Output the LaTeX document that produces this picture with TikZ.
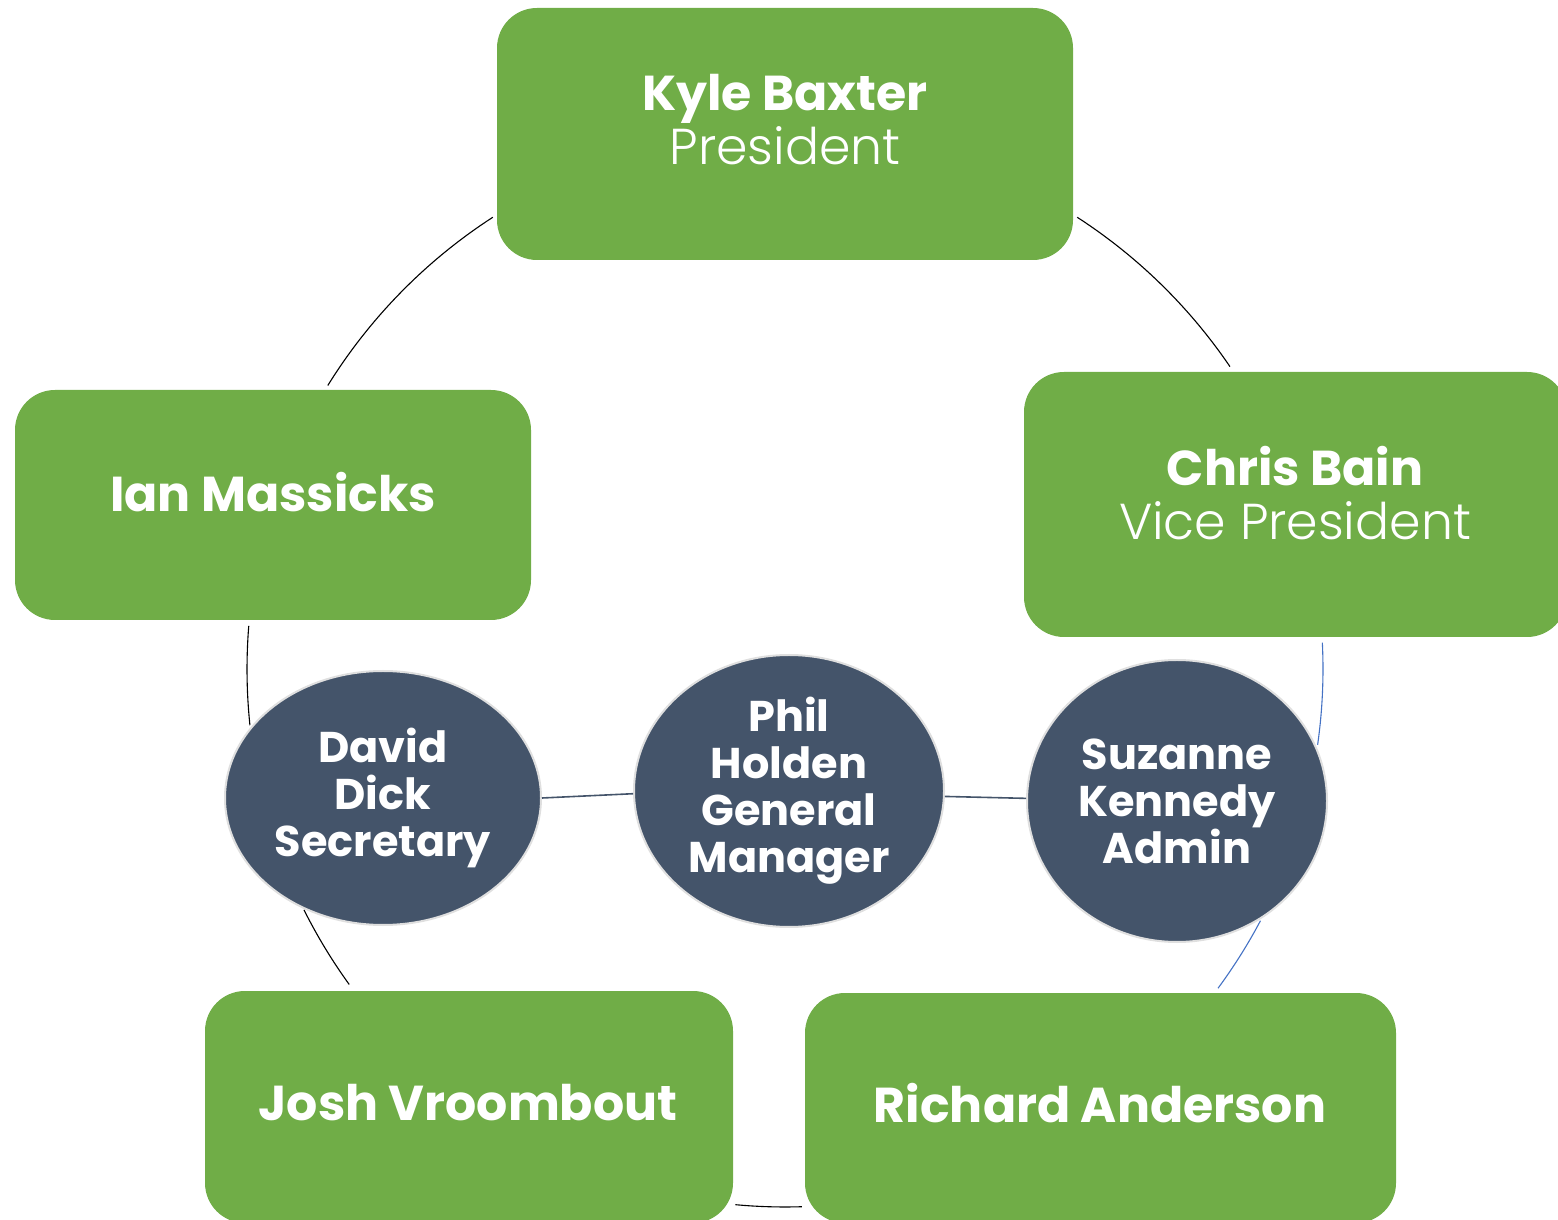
\documentclass[tikz,border=0pt]{standalone}
\usepackage{fontspec}
\setmainfont{Poppins}
\newfontfamily\lightfont{Poppins Light}
\usetikzlibrary{shapes.geometric,calc}
\definecolor{boxgreen}{HTML}{70AD47}
\definecolor{ellblue}{HTML}{44546A}
\definecolor{ringblue}{HTML}{4472C4}
\newcommand{\rolefont}{\lightfont\mdseries\fontsize{50.5}{54}\selectfont}
\tikzset{
  greenbox/.style={draw=none, fill=boxgreen, rounded corners=40pt, inner sep=0pt},
  boxtext/.style={text=white, align=center, inner sep=0pt, font=\fontsize{49}{54}\selectfont\bfseries},
  person/.style={ellipse, draw=gray!25, line width=2pt, fill=ellblue, text=white, align=center, inner sep=0pt,
    font=\fontsize{43}{47}\selectfont\bfseries},
  ring/.style={line width=1.1pt, black},
  ringb/.style={line width=1.1pt, ringblue},
  link/.style={line width=1.6pt, ellblue}
}
\begin{document}
\begin{tikzpicture}[x=1pt,y=1pt]
\useasboundingbox (0,0) rectangle (1558,1219);
\clip (0,0) rectangle (1558,1219);
\coordinate (C) at (785,550);
% ring arcs
\coordinate (a1) at ($(C)+(57.1:538)$);
\coordinate (a2) at ($(C)+(2.8:538)$);
\coordinate (a3) at ($(C)+(-27.9:538)$);
\coordinate (a4) at ($(C)+(-88.2:538)$);
\coordinate (a5) at ($(C)+(-144.1:538)$);
\coordinate (a6) at ($(C)+(186:538)$);
\coordinate (a7) at ($(C)+(148.2:538)$);
\draw[ring] (a1) arc[start angle=57.1, end angle=34.2, radius=538pt];
\draw[ringb] (a2) arc[start angle=2.8, end angle=-8.1, radius=538pt];
\draw[ringb] (a3) arc[start angle=-27.9, end angle=-36.4, radius=538pt];
\draw[ring] (a4) arc[start angle=-88.2, end angle=-95.3, radius=538pt];
\draw[ring] (a5) arc[start angle=-144.1, end angle=-153.4, radius=538pt];
\draw[ring] (a6) arc[start angle=186, end angle=175.4, radius=538pt];
\draw[ring] (a7) arc[start angle=148.2, end angle=122.9, radius=538pt];
% green boxes
\node[greenbox, minimum width=576pt, minimum height=252pt] (kyle) at (785,1085) {};
\node[greenbox, minimum width=543pt, minimum height=265pt] (chris) at (1295.5,714.5) {};
\node[greenbox, minimum width=516pt, minimum height=230pt] (ian) at (273,714) {};
\node[greenbox, minimum width=528pt, minimum height=232pt] (josh) at (469,112) {};
\node[greenbox, minimum width=591pt, minimum height=230pt] (richard) at (1100.5,111) {};
% box texts
\node[boxtext] (kylet) at (785,1099) {Kyle Baxter\\{\rolefont President}};
\node[boxtext] (christ) at (1295,726) {Chris Bain\\{\rolefont Vice President}};
\node[boxtext] (iant) at (273,727) {Ian Massicks};
\node[boxtext] (josht) at (468,116) {Josh Vroombout};
\node[boxtext] (richardt) at (1100,116) {Richard Anderson};
% ellipses
\node[person, minimum width=316pt, minimum height=254pt] (david) at (383,421) {David\\Dick\\Secretary};
\node[person, minimum width=310pt, minimum height=272pt] (phil) at (789,428) {Phil\\Holden\\General\\Manager};
\node[person, minimum width=300pt, minimum height=282pt] (suz) at (1177,418) {Suzanne\\Kennedy\\Admin};
\draw[link] (david.east) -- (phil.181);
\draw[link] (phil.358) -- (suz.179);
\end{tikzpicture}
\end{document}
